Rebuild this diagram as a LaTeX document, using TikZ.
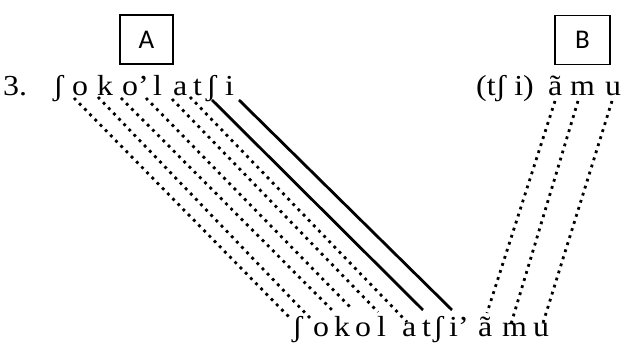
\documentclass[tikz,border=0pt]{standalone}
\usepackage{fontspec}
\setmainfont{Liberation Serif}
\newfontfamily\ipafont[FakeStretch=1.1]{Liberation Serif}
\newfontfamily\boxfont{Carlito}
\begin{document}
\begin{tikzpicture}[x=1pt,y=-1pt,
  seg/.style={font=\ipafont\fontsize{29}{29}\selectfont, inner sep=0pt, anchor=base west},
  lbox/.style={draw, line width=1.2pt, minimum width=53pt, minimum height=49pt,
    inner sep=0pt, font=\boxfont\fontsize{27}{27}\selectfont},
  link/.style={line width=2.8pt},
  dotlink/.style={line width=2.8pt, dash pattern=on 2.8pt off 4.6pt}]
\useasboundingbox (0,0) rectangle (622,344);

% labels
\node[lbox] (boxA) at (146.5,39.5) {A};
\node[lbox, minimum width=55pt] (boxB) at (582.5,40) {B};

% upper form
\node[seg] (num) at (3,96) {3.};
\node[seg] (u1) at (53,96) {ʃ};
\node[seg] (u2) at (72,96) {o};
\node[seg] (u3) at (97,96) {k};
\node[seg] (u4) at (122,96) {o’};
\node[seg] (u5) at (153,96) {l};
\node[seg] (u6) at (173,96) {a};
\node[seg] (u7) at (193,96) {t};
\node[seg] (u8) at (206,96) {ʃ};
\node[seg] (u9) at (225,96) {i};
\node[seg] (v0) at (476,96) {(tʃ i)};
\node[seg] (v1) at (548,96) {ã};
\node[seg] (v2) at (570,96) {m};
\node[seg] (v3) at (605,96) {u};

% blended form
\node[seg] (w1) at (292,337) {ʃ};
\node[seg] (w2) at (313,337) {o};
\node[seg] (w3) at (334,337) {k};
\node[seg] (w4) at (355,337) {o};
\node[seg] (w5) at (377,337) {l};
\node[seg] (w6) at (402,337) {a};
\node[seg] (w7) at (422,337) {t};
\node[seg] (w8) at (433,337) {ʃ};
\node[seg] (w9) at (449,337) {i’};
\node[seg] (w10) at (478,337) {ã};
\node[seg] (w11) at (502,337) {m};
\node[seg] (w12) at (533,337) {u};

% line ends below the upper form
\coordinate (s1) at (74,98);
\coordinate (s2) at (98,97);
\coordinate (s3) at (121,98);
\coordinate (s4) at (146,98);
\coordinate (s5) at (172,99);
\coordinate (s6) at (190,97);
\coordinate (s7) at (212,100);
\coordinate (s8) at (239,100);
\coordinate (r1) at (555,101);
\coordinate (r2) at (578,101);
\coordinate (r3) at (612,101);
% line ends above the blended form
\coordinate (e1) at (290,318);
\coordinate (e2) at (310,318);
\coordinate (e3) at (332,310);
\coordinate (e4) at (352,309);
\coordinate (e5) at (378,312);
\coordinate (e6) at (407,322);
\coordinate (e7) at (423,310);
\coordinate (e8) at (452,310);
\coordinate (f1) at (487,313);
\coordinate (f2) at (511,324);
\coordinate (f3) at (543,323);

\foreach \i in {1,...,6} \draw[dotlink] (s\i) -- (e\i);
\draw[link] (s7) -- (e7);
\draw[link] (s8) -- (e8);
\foreach \i in {1,2,3} \draw[dotlink] (r\i) -- (f\i);
\end{tikzpicture}
\end{document}
